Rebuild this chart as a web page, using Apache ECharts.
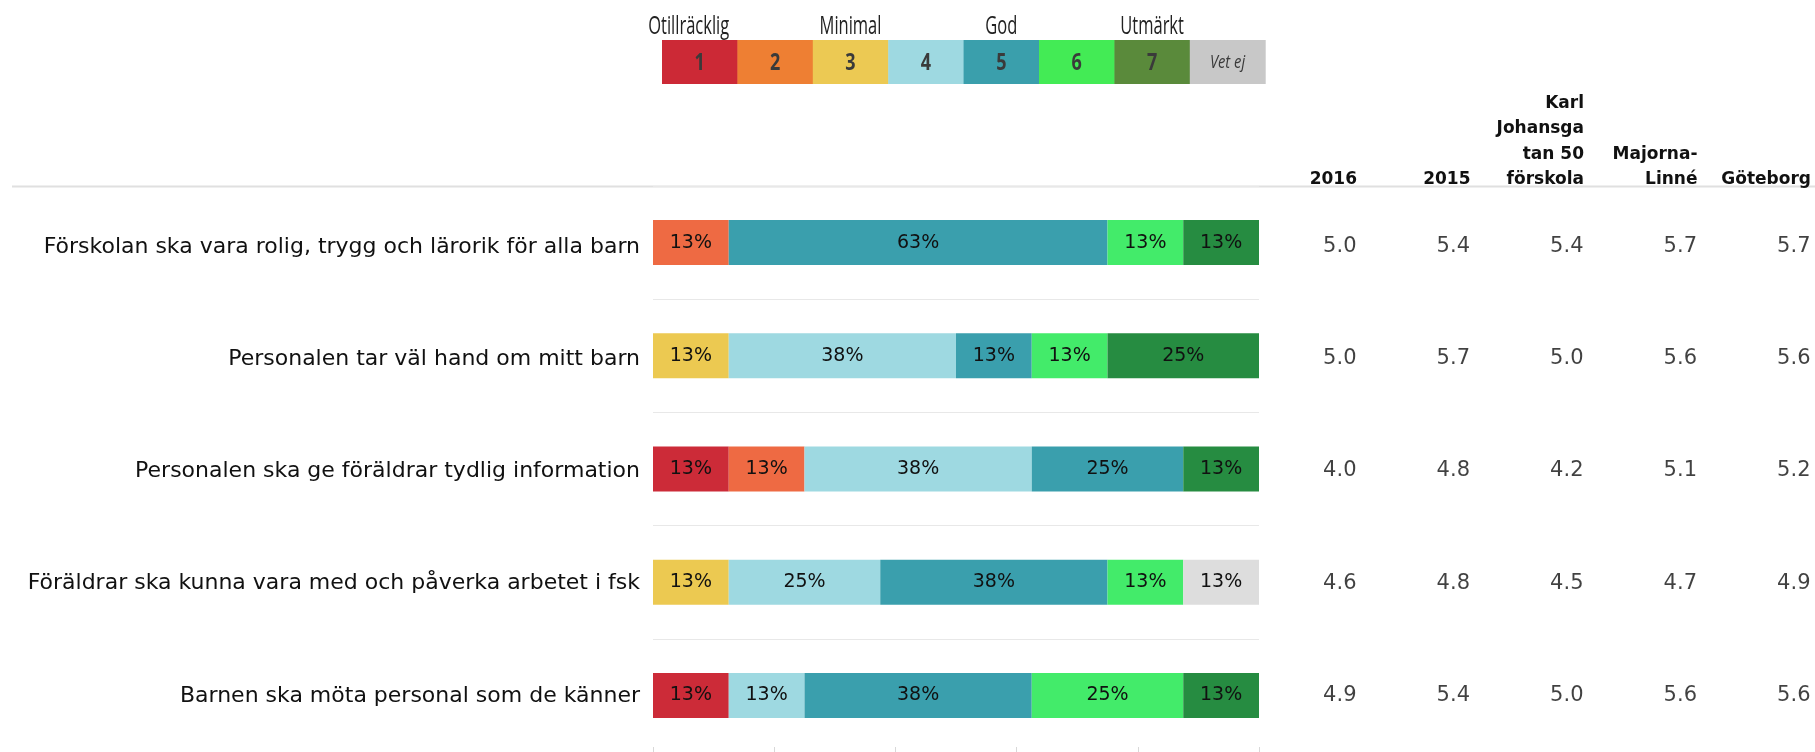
<!DOCTYPE html>
<html>
<head>
<meta charset="utf-8">
<script src="https://cdn.jsdelivr.net/npm/echarts@6/dist/echarts.min.js"></script>
<style>html,body{margin:0;padding:0;background:#fff}#c{width:1815px;height:752px}</style>
</head>
<body>
<div id="c"></div>
<script>
// ---- data ----
var questions = [
  'Förskolan ska vara rolig, trygg och lärorik för alla barn',
  'Personalen tar väl hand om mitt barn',
  'Personalen ska ge föräldrar tydlig information',
  'Föräldrar ska kunna vara med och påverka arbetet i fsk',
  'Barnen ska möta personal som de känner'
];
var grades = ['1', '2', '3', '4', '5', '6', '7', 'Vet ej'];
var gradeNames = ['Otillräcklig', '', 'Minimal', '', 'God', '', 'Utmärkt', ''];
// share (%) of answers per grade, one value per question
var share1 = [0, 0, 12.5, 0, 12.5];
var share2 = [12.5, 0, 12.5, 0, 0];
var share3 = [0, 12.5, 0, 12.5, 0];
var share4 = [0, 37.5, 37.5, 25, 12.5];
var share5 = [62.5, 12.5, 25, 37.5, 37.5];
var share6 = [12.5, 12.5, 0, 12.5, 25];
var share7 = [12.5, 25, 12.5, 0, 12.5];
var shareVetEj = [0, 0, 0, 12.5, 0];
var shares = [share1, share2, share3, share4, share5, share6, share7, shareVetEj];
// average scores
var tableHeaders = ['2016', '2015', 'Karl\nJohansga\ntan 50\nförskola', 'Majorna-\nLinné', 'Göteborg'];
var avg2016 = [5.0, 5.0, 4.0, 4.6, 4.9];
var avg2015 = [5.4, 5.7, 4.8, 4.8, 5.4];
var avgUnit = [5.4, 5.0, 4.2, 4.5, 5.0];
var avgDistrict = [5.7, 5.6, 5.1, 4.7, 5.6];
var avgCity = [5.7, 5.6, 5.2, 4.9, 5.6];
var tableCols = [avg2016, avg2015, avgUnit, avgDistrict, avgCity];

// ---- styles ----
var barColors = ['#CC2B38', '#EE6A43', '#ECC951', '#9ED9E1', '#3A9FAD', '#43EB6A', '#268C41', '#DDDDDD'];
var keyColors = ['#CC2936', '#EE7F33', '#ECC953', '#9ED9E1', '#3A9FAC', '#43EB55', '#5A8A3B', '#C8C8C8'];
var keyNameShift = [-11, 0, 0, 0, 0, 0, 0, 0];
var FONT = 'DejaVu Sans';
var TXT = '#111';

var chart = echarts.init(document.getElementById('c'), null, {renderer: 'canvas'});

var series = grades.map(function (g, i) {
  return {
    name: g, type: 'bar', stack: 'all', xAxisIndex: 0, yAxisIndex: 0,
    barWidth: 45,
    data: shares[i],
    itemStyle: {color: barColors[i]},
    label: {
      show: true, position: 'inside', color: TXT,
      fontFamily: FONT, fontSize: 19,
      formatter: function (p) { return p.value ? Math.round(p.value) + '%' : ''; }
    },
    emphasis: {disabled: true}
  };
});

var tableData = [];
tableCols.forEach(function (col, c) {
  col.forEach(function (v, r) { tableData.push([c + 1, questions[r], v]); });
});
series.push({
  type: 'scatter', xAxisIndex: 1, yAxisIndex: 1,
  symbolSize: 1, itemStyle: {color: 'rgba(0,0,0,0)'},
  data: tableData,
  label: {
    show: true, position: 'left', distance: 0, color: TXT,
    fontFamily: FONT, fontSize: 21,
    formatter: function (p) { return p.value[2].toFixed(1); }
  },
  silent: true
});

// colour key built from the grade arrays
var keyX = 662, keyW = 75.4, keyY = 40, keyH = 44;
var key = [];
grades.forEach(function (g, i) {
  key.push({type: 'rect', shape: {x: keyX + i * keyW, y: keyY, width: keyW + 0.5, height: keyH},
    style: {fill: keyColors[i]}, silent: true});
  var isVet = g === 'Vet ej';
  key.push({type: 'text', x: keyX + (i + 0.5) * keyW, y: keyY + keyH / 2 + 1,
    scaleX: isVet ? 0.82 : 0.75,
    style: {text: g, align: 'center', verticalAlign: 'middle', fill: '#3a3a3a',
      font: (isVet ? 'italic 18px ' : 'bold 24px ') + '"Open Sans"'}, silent: true});
  if (gradeNames[i]) {
    key.push({type: 'text', x: keyX + (i + 0.5) * keyW + keyNameShift[i], y: keyY - 1, scaleX: 0.66,
      style: {text: gradeNames[i], align: 'center', verticalAlign: 'bottom', fill: '#222',
        font: '25px "Open Sans"'}, silent: true});
  }
});
key.push({type: 'line', shape: {x1: 12, y1: 186.5, x2: 1815, y2: 186.5},
  style: {stroke: '#e0e0e0', lineWidth: 2}, silent: true});

chart.setOption({
  animation: false,
  backgroundColor: '#fff',
  grid: [
    {left: 653, right: 556, top: 186, bottom: -1},
    {left: 1243.5, right: 4, top: 190, bottom: -5},
    {left: 653, right: 556, top: 191, bottom: -6}
  ],
  xAxis: [
    {type: 'value', gridIndex: 0, min: 0, max: 100, interval: 20,
      axisLine: {show: false}, splitLine: {show: false}, axisLabel: {show: false},
      axisTick: {show: true, inside: true, length: 5, lineStyle: {color: '#d8d8d8'}}},
    {type: 'value', gridIndex: 1, position: 'top', min: 0, max: 5, interval: 1,
      axisLine: {show: false}, axisTick: {show: false}, splitLine: {show: false},
      axisLabel: {show: true, showMinLabel: false, showMaxLabel: true, align: 'right', margin: -2.5,
        fontFamily: FONT, fontWeight: 'bold', fontSize: 17, lineHeight: 25.5, color: TXT,
        formatter: function (v) { return tableHeaders[v - 1] || ''; }}},
    {type: 'value', gridIndex: 2, min: 0, max: 100, show: false}
  ],
  yAxis: [
    {type: 'category', gridIndex: 0, data: questions, inverse: true,
      axisLine: {show: false}, axisTick: {show: false}, axisLabel: {show: false},
      splitLine: {show: true, lineStyle: {color: '#e8e8e8', width: 1}}},
    {type: 'category', gridIndex: 1, data: questions, inverse: true, show: false},
    {type: 'category', gridIndex: 2, data: questions, inverse: true,
      axisLine: {show: false}, axisTick: {show: false}, splitLine: {show: false},
      axisLabel: {margin: 13, fontFamily: FONT, fontSize: 22, color: TXT}}
  ],
  graphic: key,
  series: series
});
</script>
</body>
</html>
